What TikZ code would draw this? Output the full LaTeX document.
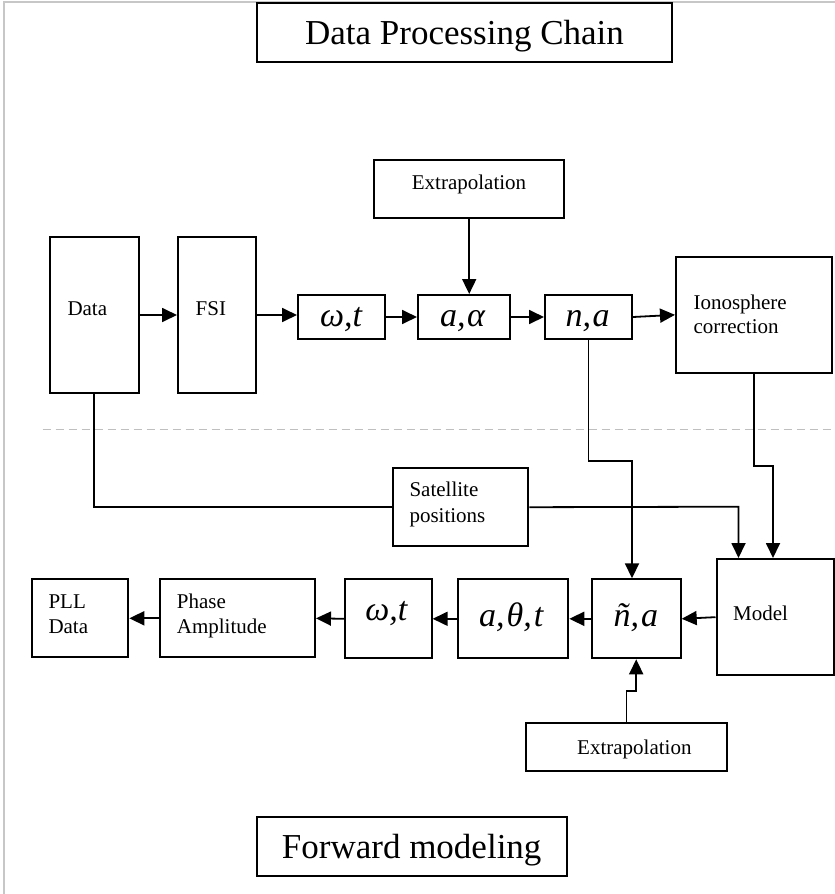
\documentclass[tikz,border=0pt]{standalone}
\usepackage{fontspec}
\setmainfont{Liberation Serif}
\usetikzlibrary{arrows.meta}
\begin{document}
\begin{tikzpicture}[x=1pt,y=-1pt,
  box/.style={draw, line width=2pt, rectangle, inner sep=0pt},
  sz/.style 2 args={minimum width=#1pt, minimum height=#2pt},
  link/.style={line width=1.8pt},
  arrow/.style={link, -{Triangle[length=15pt,width=14pt]}},
  lbl/.style={inner sep=0pt, anchor=base west, font=\fontsize{21}{25}\selectfont},
  sym/.style={inner sep=0pt, anchor=base, font=\fontsize{34}{40}\selectfont\itshape},
  head/.style={box, text depth=0pt, font=\fontsize{35}{42}\selectfont}]

% canvas and frame
\useasboundingbox (0,0) rectangle (835,894);
\draw[black!22, line width=2pt] (4,894) -- (4,1.5) -- (835,1.5);

% headings
\node[head, sz={415}{59}] (title) at (464.5,32.3) {Data Processing Chain};
\node[head, sz={310}{59}] (fwd) at (411.7,846.7) {Forward modeling};

% separator between the two halves
\draw[black!25, line width=1.5pt, dash pattern=on 8pt off 5pt] (42.6,429.3) -- (835,429.3);

% data processing chain
\node[box, sz={190.3}{58.3}] (ext1) at (469.2,189.2) {};
\node[lbl] (ext1-t) at (411.7,189.3) {Extrapolation};

\node[box, sz={89}{156}] (data) at (94,315) {};
\node[lbl] (data-t) at (67.3,315) {Data};

\node[box, sz={78}{156}] (fsi) at (217,315) {};
\node[lbl] (fsi-t) at (195.5,315) {FSI};

\node[box, sz={86.5}{44}] (wt1) at (341.25,317) {};
\node[sym] (wt1-t) at (341,326.7) {ω,t};

\node[box, sz={92}{44}] (aal) at (464,317) {};
\node[sym] (aal-t) at (462.5,326.7) {a,\kern1.5ptα};

\node[box, sz={87}{44}] (na) at (588.5,317) {};
\node[sym] (na-t) at (587.5,326.7) {n,\kern1.5pta};

\node[box, sz={156}{116.3}] (iono) at (754,314.85) {};
\node[lbl] (iono-t1) at (693.3,309.3) {Ionosphere};
\node[lbl] (iono-t2) at (693.3,333.3) {correction};

% forward modeling
\node[box, sz={135.6}{77.7}] (sat) at (460.5,507.2) {};
\node[lbl] (sat-t1) at (409.3,496.7) {Satellite};
\node[lbl] (sat-t2) at (409.3,522.7) {positions};

\node[box, sz={117.5}{116.3}] (model) at (775.25,617.15) {};
\node[lbl] (model-t) at (733,620.7) {Model};

\node[box, sz={89}{79}] (nta) at (636.2,618.8) {};
\node[sym] (nta-t) at (635.8,626.7) {ñ,\kern2pta};

\node[box, sz={110}{79}] (atht) at (513.3,618.8) {};
\node[sym] (atht-t) at (511.3,626.7) {a,\kern2ptθ,\kern2ptt};

\node[box, sz={86.7}{79}] (wt2) at (388.3,618.8) {};
\node[sym] (wt2-t) at (386.3,620.5) {ω,t};

\node[box, sz={155}{78}] (phase) at (237.5,618.3) {};
\node[lbl] (phase-t1) at (176.7,608) {Phase};
\node[lbl] (phase-t2) at (176.7,633) {Amplitude};

\node[box, sz={96.6}{78}] (pll) at (80,618.3) {};
\node[lbl] (pll-t1) at (48.3,608.3) {PLL};
\node[lbl] (pll-t2) at (48.3,633.3) {Data};

\node[box, sz={200.2}{48.3}] (ext2) at (626.5,746.85) {};
\node[lbl] (ext2-t) at (577,754) {Extrapolation};

% bends of the routed connectors
\coordinate (j1) at (632,461.3);
\coordinate (j2) at (773,466);
\coordinate (j3) at (636.2,690.7);
\coordinate (j4) at (738.5,506.7);

% upper chain
\draw[arrow] (data.east) -- (fsi.west);
\draw[arrow] (fsi.east) -- (fsi.east -| wt1.west);
\draw[arrow] (wt1.east) -- (aal.west);
\draw[arrow] (aal.east) -- (na.west);
\draw[arrow] (na.east) -- (iono.west);
\draw[arrow] (ext1.south) -- (ext1.south |- aal.north);

% links down into the model
\draw[link] (data.south) |- (sat.west);
\draw[arrow] (sat.east) -- (j4) -- (j4 |- model.north);
\draw[arrow] (iono.south) |- (j2) -- (j2 |- model.north);
\draw[arrow] (na.south) |- (j1) -- (j1 |- nta.north);
\draw[arrow] (ext2.north) |- (j3) -- (nta.south);

% lower chain
\draw[arrow] (model.west) -- (nta.east);
\draw[arrow] (nta.west) -- (atht.east);
\draw[arrow] (atht.west) -- (wt2.east);
\draw[arrow] (wt2.west) -- (phase.east);
\draw[arrow] (phase.west) -- (pll.east);
\end{tikzpicture}
\end{document}
